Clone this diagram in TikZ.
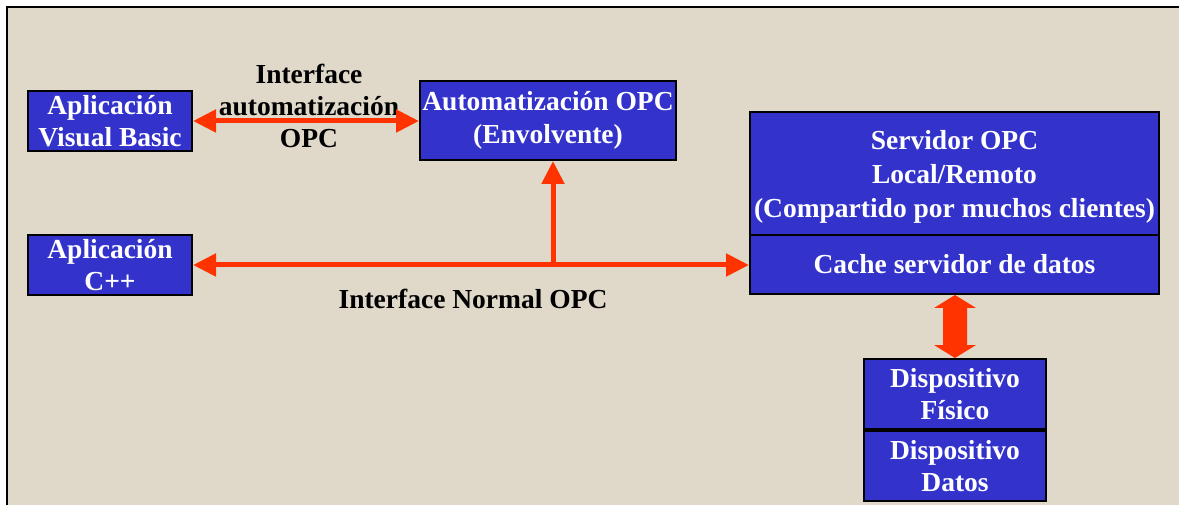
\documentclass[tikz,border=0pt]{standalone}
\usepackage{fontspec}
\setmainfont{Liberation Serif}
\usetikzlibrary{arrows.meta}
\begin{document}
\definecolor{bg}{RGB}{224,216,201}
\definecolor{boxblue}{RGB}{51,51,204}
\definecolor{arr}{RGB}{255,51,0}
\begin{tikzpicture}[x=1pt,y=-1pt,
  blk/.style={draw=black,line width=2pt,fill=boxblue,text=white,font=\bfseries\fontsize{27.5}{32.5}\selectfont,align=center,inner sep=0pt,anchor=north west},
  lbl/.style={text=black,font=\bfseries\fontsize{27.5}{32}\selectfont,align=center,inner sep=0pt},
  rarrow/.style={draw=arr,line width=5pt,-{Triangle[length=23pt,width=22pt]}},
  rarrows/.style={draw=arr,line width=5pt,{Triangle[length=23pt,width=22pt]}-{Triangle[length=23pt,width=22pt]}}]
\useasboundingbox (0,0) rectangle (1179,505);
\fill[white] (0,0) rectangle (1179,505);
\fill[bg] (7,7) rectangle (1179,505);
\draw[black,line width=2.2pt] (7,505) -- (7,7) -- (1179,7);
% boxes
\node[blk,minimum width=164pt,minimum height=60pt] (vb) at (27,90) {Aplicación\\Visual Basic};
\node[blk,minimum width=164pt,minimum height=60pt] (cpp) at (27,234) {Aplicación\\C++};
\node[blk,minimum width=256pt,minimum height=79pt] (auto) at (419,80) {Automatización OPC\\(Envolvente)};
\node[blk,minimum width=409pt,minimum height=123pt,text depth=0pt,font=\bfseries\fontsize{27.5}{34}\selectfont] (srv) at (749,111) {Servidor OPC\\Local/Remoto\\(Compartido por muchos clientes)};
\node[blk,minimum width=409pt,minimum height=59pt] (cache) at (749,234) {Cache servidor de datos};
\node[blk,minimum width=182pt,minimum height=70pt] (fis) at (863,358) {Dispositivo\\Físico};
\node[blk,minimum width=182pt,minimum height=70pt] (dat) at (863,430) {Dispositivo\\Datos};
% labels
\node[lbl] (lauto) at (309,106) {Interface\\automatización\\OPC};
\node[lbl] (lnorm) at (473,299) {Interface Normal OPC};
% arrows
\draw[rarrows] (vb.east) -- (auto.west |- vb.east);
\coordinate (jn) at (553,265);
\draw[rarrows] (cpp.east |- jn) -- (cache.west |- jn);
\draw[rarrow] (jn) -- (jn |- auto.south);
% thick double arrow
\coordinate (ta) at (955,295);
\coordinate (tb) at (955,358);
\fill[arr] (ta) -- ++(21,13) -- ++(-9,0) -- (967,345) -- (976,345) -- (tb) -- (934,345) -- (943,345) -- (943,308) -- (934,308) -- cycle;
\end{tikzpicture}
\end{document}
